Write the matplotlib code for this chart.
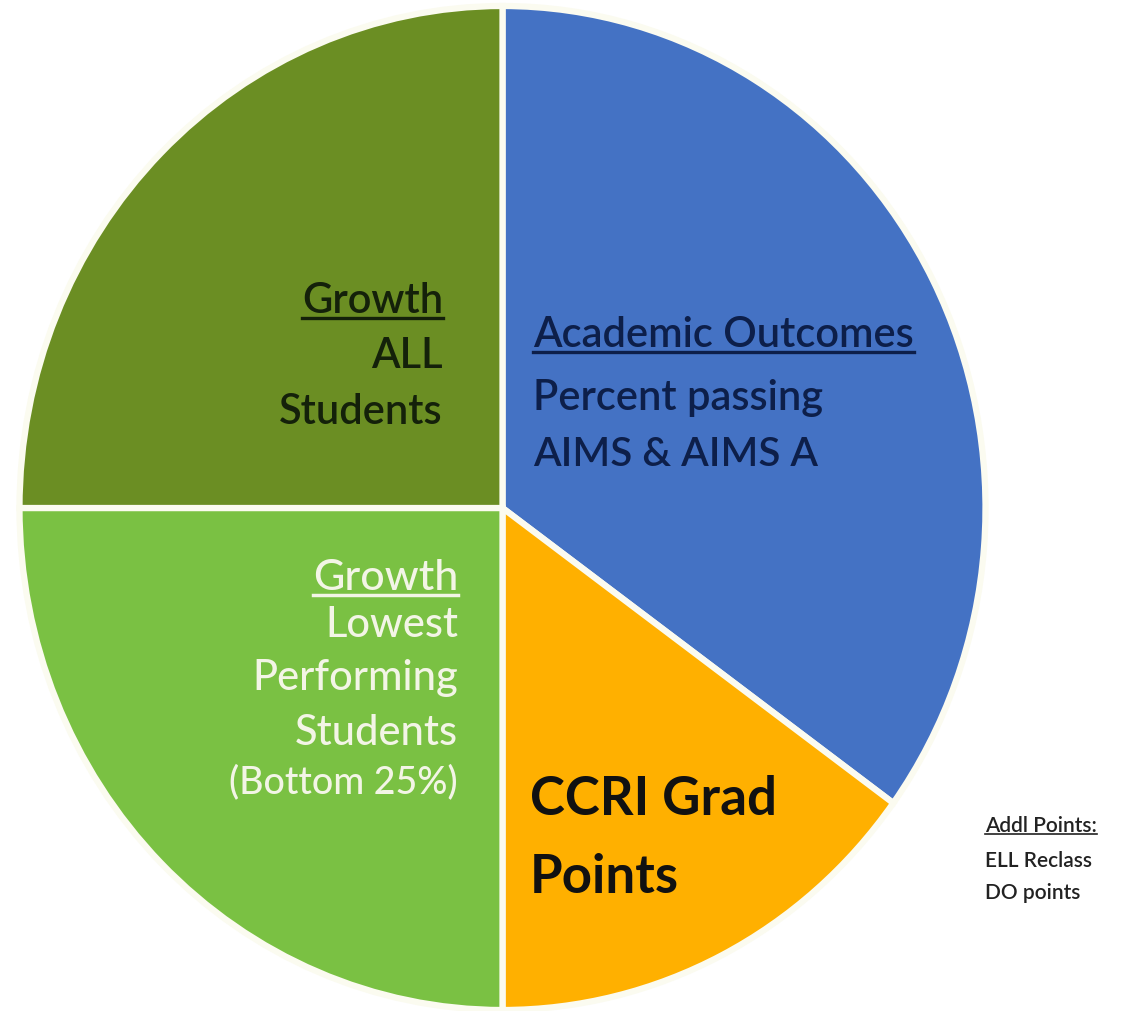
"""
Accountability pie: point weighting per component
"""

import matplotlib
matplotlib.use("Agg")
import matplotlib.pyplot as plt
from matplotlib.lines import Line2D

W, H = 1133, 1011

# slices, clockwise from 12 o'clock
categories = ["Academic Outcomes", "CCRI Grad Points", "Growth Lowest 25%", "Growth ALL"]
values = [35, 15, 25, 25]
colors = ["#4472c4", "#ffb000", "#7ac143", "#6b8e23"]

# label lines: (text, x_px, baseline_px, ha, size, weight, color, underline)
dark_text = "#14210a"
light_text = "#f3f5e6"
label_lines = [
    ("Growth", 443, 313, "right", 30, "semibold", dark_text, True),
    ("ALL", 443, 368, "right", 30, "semibold", dark_text, False),
    ("Students", 443, 424, "right", 30, "semibold", dark_text, False),
    ("Academic Outcomes", 533, 347, "left", 30, "semibold", "#0d1f4a", True),
    ("Percent passing", 533, 410, "left", 30, "semibold", "#0d1f4a", False),
    ("AIMS & AIMS A", 533, 466, "left", 29, "semibold", "#0d1f4a", False),
    ("Growth", 458, 590, "right", 31, "medium", light_text, True),
    ("Lowest", 458, 637, "right", 30, "medium", light_text, False),
    ("Performing", 458, 690, "right", 30, "medium", light_text, False),
    ("Students", 458, 745, "right", 30, "medium", light_text, False),
    ("(Bottom 25%)", 458, 793, "right", 27, "medium", light_text, False),
    ("CCRI Grad", 530, 815, "left", 38, "bold", "#111111", False),
    ("Points", 530, 893, "left", 38, "bold", "#111111", False),
    ("Addl Points:", 985, 832, "left", 15, "semibold", "#222222", True),
    ("ELL Reclass", 985, 867, "left", 15, "semibold", "#222222", False),
    ("DO points", 985, 899, "left", 15, "semibold", "#222222", False),
]

plt.rcParams["font.family"] = ["Lato", "DejaVu Sans"]

fig = plt.figure(figsize=(W / 100, H / 100), dpi=100)
ax = fig.add_axes([0, 0, 1, 1])

# pie centre and radii in pixels (slightly taller than wide in the source)
cx, cy = 502.5, 508
rx, ry = 483, 502

ax.pie(values, colors=colors, startangle=90, counterclock=False, radius=1,
       wedgeprops=dict(edgecolor="#fbfbf0", linewidth=4.5))
ax.set_aspect("auto")
ax.set_xlim(-cx / rx, (W - cx) / rx)
ax.set_ylim(-(H - cy) / ry, cy / ry)
ax.axis("off")

texts = []
for txt, x, y, ha, size, weight, col, ul in label_lines:
    t = fig.text(x / W, 1 - y / H, txt, ha=ha, va="baseline", fontsize=size,
                 fontweight=weight, color=col)
    texts.append((t, ul, col, size))

# underlines (matplotlib has no underline text style)
fig.canvas.draw()
renderer = fig.canvas.get_renderer()
for t, ul, col, size in texts:
    if not ul:
        continue
    bb = t.get_window_extent(renderer)
    _, base = fig.transFigure.transform(t.get_position())
    yline = base - size * 0.16
    fig.add_artist(Line2D([bb.x0, bb.x1], [yline, yline], transform=None,
                          color=col, linewidth=max(1.2, size * 0.08)))

fig.savefig("out.png", dpi=100, facecolor="white")
